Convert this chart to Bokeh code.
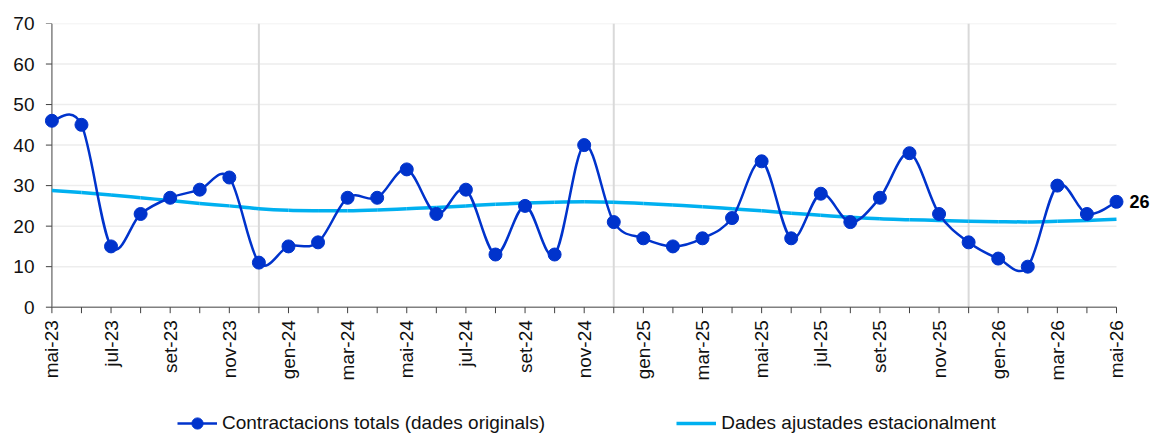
from bokeh.plotting import figure
from bokeh.models import (Range1d, FixedTicker, Legend, LegendItem, ColumnDataSource)
from bokeh.core.properties import value
from bokeh.embed import file_html
from bokeh.resources import INLINE
import numpy as np

months = ["mai-23", "jun-23", "jul-23", "ago-23", "set-23", "oct-23", "nov-23", "des-23",
          "gen-24", "feb-24", "mar-24", "abr-24", "mai-24", "jun-24", "jul-24", "ago-24",
          "set-24", "oct-24", "nov-24", "des-24", "gen-25", "feb-25", "mar-25", "abr-25",
          "mai-25", "jun-25", "jul-25", "ago-25", "set-25", "oct-25", "nov-25", "des-25",
          "gen-26", "feb-26", "mar-26", "abr-26", "mai-26"]
originals = [46, 45, 15, 23, 27, 29, 32, 11, 15, 16, 27, 27, 34, 23, 29, 13, 25, 13, 40, 21,
             17, 15, 17, 22, 36, 17, 28, 21, 27, 38, 23, 16, 12, 10, 30, 23, 26]
ajustades = [28.8, 28.3, 27.7, 27.0, 26.3, 25.6, 25.0, 24.3, 23.9, 23.8, 23.8, 24.0, 24.3,
             24.6, 25.0, 25.4, 25.7, 25.9, 26.0, 25.9, 25.6, 25.2, 24.8, 24.3, 23.8, 23.2,
             22.7, 22.2, 21.8, 21.6, 21.4, 21.2, 21.1, 21.05, 21.2, 21.4, 21.7]
y_ticks = [0, 10, 20, 30, 40, 50, 60, 70]
year_breaks = ["des-23", "des-24", "des-25"]
label_last = "26"

FONT = "Liberation Sans"
BLUE = "#0033CC"
CYAN = "#00B0F0"
TXT = "#111111"

n = len(months)
xs = list(range(n))


def smooth_segments(x, y):
    x = np.asarray(x, float)
    y = np.asarray(y, float)
    xp = np.concatenate([[x[0]], x, [x[-1]]])
    yp = np.concatenate([[y[0]], y, [y[-1]]])
    d = dict(x0=[], y0=[], x1=[], y1=[], cx0=[], cy0=[], cx1=[], cy1=[])
    for i in range(len(x) - 1):
        j = i + 1
        d["x0"].append(x[i]); d["y0"].append(y[i])
        d["x1"].append(x[i + 1]); d["y1"].append(y[i + 1])
        d["cx0"].append(x[i] + (xp[j + 1] - xp[j - 1]) / 6)
        d["cy0"].append(y[i] + (yp[j + 1] - yp[j - 1]) / 6)
        d["cx1"].append(x[i + 1] - (xp[j + 2] - xp[j]) / 6)
        d["cy1"].append(y[i + 1] - (yp[j + 2] - yp[j]) / 6)
    return ColumnDataSource(d)


p = figure(width=1150, height=437, output_backend="svg", toolbar_location=None,
           x_axis_location=None,
           x_range=Range1d(-0.25, 37.15), y_range=Range1d(-32.15, 70.0),
           min_border_left=44, min_border_right=0, min_border_top=23, min_border_bottom=0)
p.outline_line_color = None
p.xgrid.visible = False
p.ygrid.visible = False

# horizontal gridlines
p.segment(x0=[0] * (len(y_ticks) - 1), x1=[n - 1] * (len(y_ticks) - 1),
          y0=y_ticks[1:], y1=y_ticks[1:], line_color="#EDEDED", line_width=1.5)
# year separators
bx = [months.index(m) for m in year_breaks]
p.segment(x0=bx, x1=bx, y0=[y_ticks[0]] * len(bx), y1=[y_ticks[-1]] * len(bx),
          line_color="#D9D9D9", line_width=2)

# axes lines and ticks
p.segment(x0=[0], x1=[0], y0=[y_ticks[0]], y1=[y_ticks[-1]], line_color="#808080", line_width=1.5)
p.segment(x0=[0], x1=[n - 1], y0=[y_ticks[0]], y1=[y_ticks[0]], line_color="#808080", line_width=1.5)
p.ray(x=[0] * len(y_ticks), y=y_ticks, length=6, length_units="screen", angle=np.pi,
      line_color="#404040", line_width=1)
p.ray(x=xs, y=[y_ticks[0]] * n, length=6, length_units="screen", angle=-np.pi / 2,
      line_color="#404040", line_width=1)

# x tick labels
p.text(x=xs[::2], y=[y_ticks[0]] * len(xs[::2]), text=months[::2], angle=np.pi / 2,
       y_offset=13, text_align="right", text_baseline="middle",
       text_font=value(FONT), text_font_size="19px", text_color=TXT)

# series
p.bezier(source=smooth_segments(xs, ajustades), x0="x0", y0="y0", x1="x1", y1="y1",
         cx0="cx0", cy0="cy0", cx1="cx1", cy1="cy1", line_color=CYAN, line_width=3.5)
p.bezier(source=smooth_segments(xs, originals), x0="x0", y0="y0", x1="x1", y1="y1",
         cx0="cx0", cy0="cy0", cx1="cx1", cy1="cy1", line_color=BLUE, line_width=2.5)
sc = p.scatter(xs, originals, size=13, fill_color=BLUE, line_color=BLUE)

# last value label
p.text(x=[xs[-1]], y=[originals[-1]], text=[label_last], x_offset=13,
       text_align="left", text_baseline="middle",
       text_font=value(FONT), text_font_size="18px", text_font_style="bold", text_color="#000000")

# legend proxies (no visible data)
l1 = p.line([0, 1], [float("nan"), float("nan")], line_color=BLUE, line_width=2.5)
l2 = p.line([0, 1], [float("nan"), float("nan")], line_color=CYAN, line_width=3.5)

# y axis labels
ya = p.yaxis[0]
ya.ticker = FixedTicker(ticks=y_ticks)
ya.bounds = (y_ticks[0], y_ticks[-1])
ya.axis_line_color = None
ya.major_tick_line_color = None
ya.major_tick_in = 0
ya.major_tick_out = 0
ya.minor_tick_line_color = None
ya.major_label_standoff = 10
ya.major_label_text_font = FONT
ya.major_label_text_font_size = "19px"
ya.major_label_text_color = TXT

legend = Legend(items=[LegendItem(label="Contractacions totals (dades originals)", renderers=[l1, sc]),
                       LegendItem(label="Dades ajustades estacionalment", renderers=[l2])],
                orientation="horizontal", location=(133, 0), glyph_width=40, glyph_height=28,
                label_standoff=5, spacing=131, padding=0, margin=0,
                border_line_alpha=0, background_fill_alpha=0,
                label_text_font=FONT, label_text_font_size="19px", label_text_color=TXT)
p.add_layout(legend, "center")

open("out.html", "w").write(file_html(p, INLINE))
